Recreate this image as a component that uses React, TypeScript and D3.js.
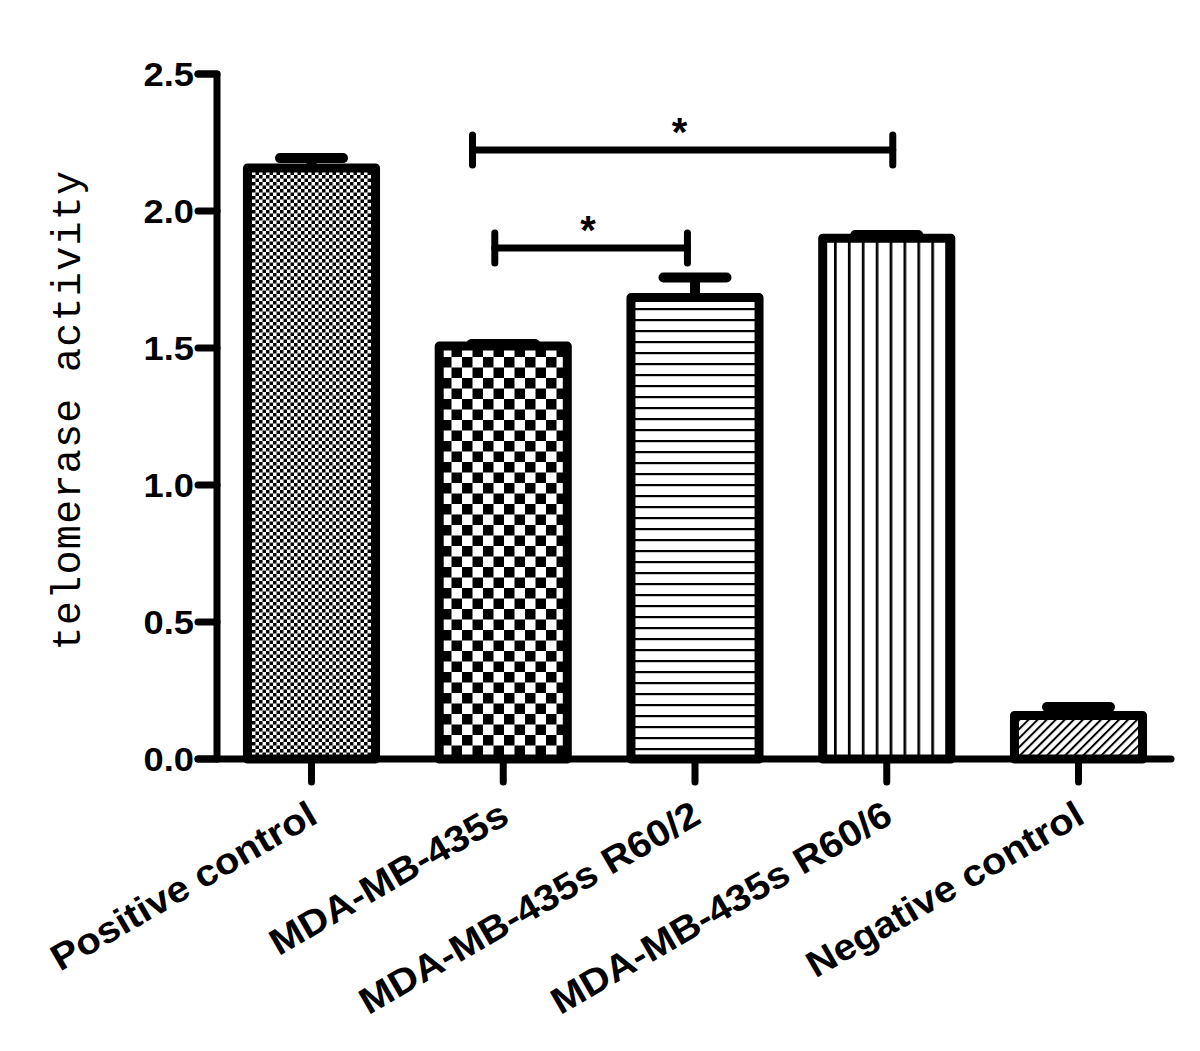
import React, { useEffect, useRef } from 'react';
import * as d3 from 'd3';

const categories = ['Positive control', 'MDA-MB-435s', 'MDA-MB-435s R60/2', 'MDA-MB-435s R60/6', 'Negative control'];
const means = [2.157, 1.507, 1.684, 1.901, 0.159];
const errors = [0.036, 0.008, 0.073, 0.011, 0.031];
const patternIds = ['fineCheck', 'coarseCheck', 'hLines', 'vLines', 'diagLines'];
const yTicks = [0, 0.5, 1.0, 1.5, 2.0, 2.5];
// significance brackets: bar indices, height in data units, end shifts as a fraction of bar width
const brackets = [
  { from: 1, to: 3, level: 2.223, fromShift: -0.24, toShift: 0.047, label: '*' },
  { from: 1, to: 2, level: 1.865, fromShift: -0.066, toShift: -0.059, label: '*' },
];

const App: React.FC = () => {
  const svgRef = useRef<SVGSVGElement | null>(null);

  useEffect(() => {
    const width = 1200;
    const height = 1051;
    const svg = d3.select(svgRef.current);
    svg.selectAll('*').remove();
    svg.attr('width', width).attr('height', height);

    const axisX = 217;
    const x = d3.scaleBand<string>()
      .domain(categories)
      .range([216, 1174])
      .paddingInner(0.332)
      .paddingOuter(0.164);

    const y = d3.scaleLinear().domain([0, 2.5]).range([759, 74]);

    // Fill patterns
    const defs = svg.append('defs');
    const fine = defs.append('pattern').attr('id', 'fineCheck')
      .attr('patternUnits', 'userSpaceOnUse').attr('width', 7).attr('height', 7);
    fine.append('rect').attr('width', 7).attr('height', 7).attr('fill', '#fff');
    fine.append('rect').attr('width', 3.5).attr('height', 3.5).attr('fill', '#000');
    fine.append('rect').attr('x', 3.5).attr('y', 3.5).attr('width', 3.5).attr('height', 3.5).attr('fill', '#000');

    const coarse = defs.append('pattern').attr('id', 'coarseCheck')
      .attr('patternUnits', 'userSpaceOnUse').attr('width', 21).attr('height', 21);
    coarse.append('rect').attr('width', 21).attr('height', 21).attr('fill', '#fff');
    coarse.append('rect').attr('width', 10.5).attr('height', 10.5).attr('fill', '#000');
    coarse.append('rect').attr('x', 10.5).attr('y', 10.5).attr('width', 10.5).attr('height', 10.5).attr('fill', '#000');

    const hl = defs.append('pattern').attr('id', 'hLines')
      .attr('patternUnits', 'userSpaceOnUse').attr('width', 11).attr('height', 11);
    hl.append('rect').attr('width', 11).attr('height', 11).attr('fill', '#fff');
    hl.append('rect').attr('width', 11).attr('height', 2.2).attr('fill', '#000');

    const vl = defs.append('pattern').attr('id', 'vLines')
      .attr('patternUnits', 'userSpaceOnUse').attr('width', 13.9).attr('height', 14);
    vl.append('rect').attr('width', 13.9).attr('height', 14).attr('fill', '#fff');
    vl.append('rect').attr('width', 2.7).attr('height', 14).attr('fill', '#000');

    const dl = defs.append('pattern').attr('id', 'diagLines')
      .attr('patternUnits', 'userSpaceOnUse').attr('width', 6.4).attr('height', 6.4)
      .attr('patternTransform', 'rotate(45)');
    dl.append('rect').attr('width', 6.4).attr('height', 6.4).attr('fill', '#fff');
    dl.append('rect').attr('width', 2).attr('height', 6.4).attr('fill', '#000');

    // Bars
    svg.append('g')
      .selectAll('rect')
      .data(means)
      .enter()
      .append('rect')
      .attr('x', (d, i) => x(categories[i]) as number)
      .attr('y', d => y(d))
      .attr('width', x.bandwidth())
      .attr('height', d => y(0) - y(d))
      .attr('fill', (d, i) => `url(#${patternIds[i]})`)
      .attr('stroke', '#000')
      .attr('stroke-width', 9)
      .attr('stroke-linejoin', 'round');

    // Error bars
    const eg = svg.append('g').attr('stroke', '#000').attr('stroke-width', 10).attr('stroke-linecap', 'round');
    means.forEach((m, i) => {
      const cx = (x(categories[i]) as number) + x.bandwidth() / 2;
      const top = y(m + errors[i]);
      eg.append('line').attr('x1', cx).attr('x2', cx).attr('y1', y(m)).attr('y2', top).attr('stroke-linecap', 'butt');
      eg.append('line').attr('x1', cx - 31.5).attr('x2', cx + 31.5).attr('y1', top).attr('y2', top);
    });

    // Y axis
    const ag = svg.append('g').attr('stroke', '#000').attr('stroke-width', 7)
      .attr('stroke-linecap', 'round').attr('fill', 'none');
    ag.append('path')
      .attr('d', `M${axisX - 19},${y(2.5)}H${axisX}V${y(0)}`)
      .attr('stroke-linejoin', 'round');
    yTicks.forEach(t => {
      ag.append('line').attr('x1', axisX - 19).attr('x2', axisX).attr('y1', y(t)).attr('y2', y(t));
    });
    svg.append('g')
      .selectAll('text')
      .data(yTicks)
      .enter()
      .append('text')
      .attr('transform', d => `translate(194,${y(d) + 12}) scale(1.1,1)`)
      .attr('text-anchor', 'end')
      .attr('font-family', 'Liberation Sans, Arial, sans-serif')
      .attr('font-weight', 'bold')
      .attr('font-size', 33)
      .text(d => d.toFixed(1));

    // X axis
    ag.append('line').attr('x1', axisX - 19).attr('x2', 1171).attr('y1', y(0)).attr('y2', y(0));
    categories.forEach(c => {
      const cx = (x(c) as number) + x.bandwidth() / 2;
      ag.append('line').attr('x1', cx).attr('x2', cx).attr('y1', y(0)).attr('y2', y(0) + 23);
    });
    svg.append('g')
      .selectAll('text')
      .data(categories)
      .enter()
      .append('text')
      .attr('transform', d => `translate(${(x(d) as number) + x.bandwidth() / 2 + 8},${y(0) + 63}) rotate(-30) scale(1.08,1)`)
      .attr('text-anchor', 'end')
      .attr('font-family', 'Liberation Sans, Arial, sans-serif')
      .attr('font-weight', 'bold')
      .attr('font-size', 37)
      .text(d => d);

    // Y axis label
    svg.append('text')
      .attr('transform', 'translate(80,410) rotate(-90)')
      .attr('text-anchor', 'middle')
      .attr('font-family', 'Liberation Mono, DejaVu Sans Mono, monospace')
      .attr('font-size', 40)
      .attr('letter-spacing', 1.3)
      .text('telomerase activity');

    // Significance brackets
    const bg = svg.append('g');
    brackets.forEach(b => {
      const x1 = (x(categories[b.from]) as number) + x.bandwidth() * (0.5 + b.fromShift);
      const x2 = (x(categories[b.to]) as number) + x.bandwidth() * (0.5 + b.toShift);
      const by = y(b.level);
      const g = bg.append('g').attr('stroke', '#000').attr('stroke-width', 7).attr('stroke-linecap', 'round');
      g.append('line').attr('x1', x1).attr('x2', x2).attr('y1', by).attr('y2', by);
      g.append('line').attr('x1', x1).attr('x2', x1).attr('y1', by - 15).attr('y2', by + 15);
      g.append('line').attr('x1', x2).attr('x2', x2).attr('y1', by - 15).attr('y2', by + 15);
      bg.append('text')
        .attr('x', (x1 + x2) / 2 - 3)
        .attr('y', by - 4)
        .attr('text-anchor', 'middle')
        .attr('font-family', 'Liberation Sans, Arial, sans-serif')
        .attr('font-weight', 'bold')
        .attr('font-size', 40)
        .text(b.label);
    });
  }, []);

  return (
    <svg ref={svgRef} style={{ position: 'absolute', left: 0, top: 0, background: '#fff' }}></svg>
  );
};

export default App;
